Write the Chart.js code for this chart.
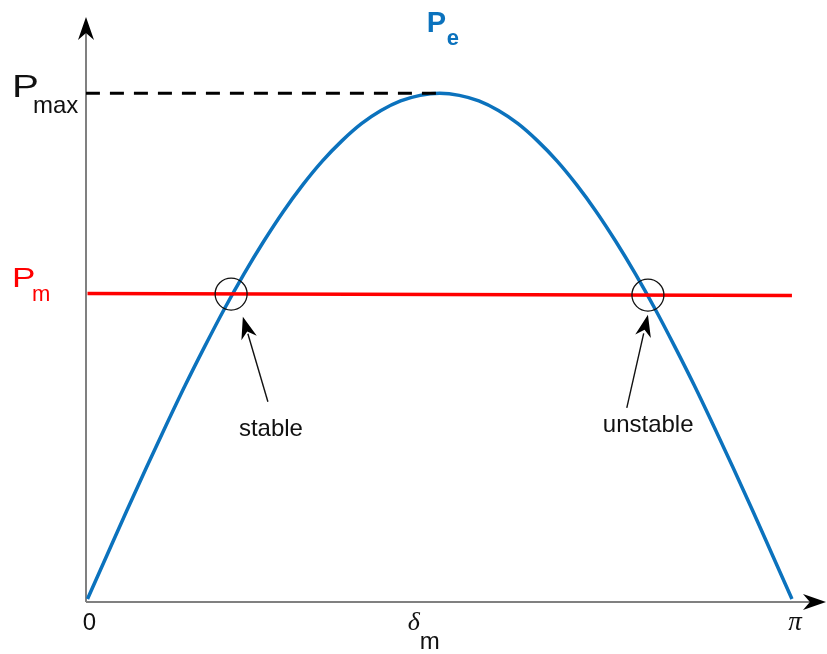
<!DOCTYPE html>
<html>
<head>
<meta charset="utf-8">
<script src="https://cdn.jsdelivr.net/npm/chart.js@4"></script>
<style>
  body { margin: 0; background: white; }
  #wrap { width: 827px; height: 654px; }
</style>
</head>
<body>
<div id="wrap"><canvas id="powerAngle" width="827" height="654"></canvas></div>
<script>
// load angle in degrees (0 .. 180 = pi) and electrical power Pe / Pmax
const peAngle = [0, 5, 10, 15, 20, 25, 30, 35, 40, 45, 50, 55, 60, 65, 70, 75, 80, 85, 90,
                 95, 100, 105, 110, 115, 120, 125, 130, 135, 140, 145, 150, 155, 160, 165, 170, 175, 180];
const peValue = [0, 0.087, 0.174, 0.259, 0.342, 0.423, 0.5, 0.574, 0.643, 0.707, 0.766, 0.819, 0.866, 0.906, 0.94, 0.966, 0.985, 0.996, 1,
                 0.996, 0.985, 0.966, 0.94, 0.906, 0.866, 0.819, 0.766, 0.707, 0.643, 0.574, 0.5, 0.423, 0.342, 0.259, 0.174, 0.087, 0];

// mechanical power line Pm
const pmAngle = [0, 180];
const pmValue = [0.604, 0.6];

// Pmax dashed guide up to the peak
const pmaxAngle = [-0.4, 90];
const pmaxValue = [1, 1];

// operating points (circles) and their labels
const opNames = ["stable", "unstable"];
const opAngle = [36.7, 143.2];
const opValue = [0.603, 0.601];
// arrow tail -> tip, in data units
const arrowTail = [[46.1, 0.39], [137.8, 0.378]];
const arrowTip = [[39.7, 0.558], [143.2, 0.562]];

const blue = "#0b72bd";
const red = "#ff0000";
const ink = "#111111";

function toPoints(xs, ys) {
  return xs.map((x, i) => ({ x: x, y: ys[i] }));
}

function drawText(ctx, text, x, y, font, color, align, scaleX) {
  ctx.save();
  ctx.font = font;
  ctx.fillStyle = color;
  ctx.textAlign = align || "left";
  ctx.textBaseline = "alphabetic";
  ctx.translate(x, y);
  ctx.scale(scaleX || 1, 1);
  ctx.fillText(text, 0, 0);
  ctx.restore();
}

function arrowHead(ctx, tipX, tipY, fromX, fromY, len, half) {
  const a = Math.atan2(tipY - fromY, tipX - fromX);
  const c = Math.cos(a), s = Math.sin(a);
  const bx = tipX - c * len, by = tipY - s * len;
  const nx = tipX - c * len * 0.7, ny = tipY - s * len * 0.7;
  ctx.beginPath();
  ctx.moveTo(tipX, tipY);
  ctx.lineTo(bx - s * half, by + c * half);
  ctx.lineTo(nx, ny);
  ctx.lineTo(bx + s * half, by - c * half);
  ctx.closePath();
  ctx.fill();
}

const axesPlugin = {
  id: "axesPlugin",
  beforeDatasetsDraw(chart) {
    const ctx = chart.ctx;
    const area = chart.chartArea;
    ctx.save();
    ctx.strokeStyle = "#808080";
    ctx.lineWidth = 2;
    ctx.beginPath();
    ctx.moveTo(area.left, area.bottom);
    ctx.lineTo(area.left, area.top + 15);
    ctx.moveTo(area.left, area.bottom);
    ctx.lineTo(area.right - 15, area.bottom);
    ctx.stroke();
    ctx.fillStyle = "#000";
    arrowHead(ctx, area.left, area.top, area.left, area.bottom, 23, 8);
    arrowHead(ctx, area.right, area.bottom, area.left, area.bottom, 23, 8);
    ctx.restore();
  },
  afterDraw(chart) {
    const ctx = chart.ctx;
    const xs = chart.scales.x;
    const ys = chart.scales.y;
    const area = chart.chartArea;
    ctx.save();

    // circles and arrows at the operating points
    ctx.strokeStyle = ink;
    ctx.fillStyle = "#000";
    for (let i = 0; i < opNames.length; i++) {
      const cx = xs.getPixelForValue(opAngle[i]);
      const cy = ys.getPixelForValue(opValue[i]);
      ctx.lineWidth = 1.3;
      ctx.beginPath();
      ctx.arc(cx, cy, 16, 0, Math.PI * 2);
      ctx.stroke();

      const tx = xs.getPixelForValue(arrowTail[i][0]);
      const ty = ys.getPixelForValue(arrowTail[i][1]);
      const hx = xs.getPixelForValue(arrowTip[i][0]);
      const hy = ys.getPixelForValue(arrowTip[i][1]);
      ctx.lineWidth = 1.4;
      ctx.beginPath();
      ctx.moveTo(tx, ty);
      ctx.lineTo(hx + (tx - hx) * 0.2, hy + (ty - hy) * 0.2);
      ctx.stroke();
      arrowHead(ctx, hx, hy, tx, ty, 22, 8);
    }

    const txtFont = "24px 'Liberation Sans', Arial, sans-serif";
    drawText(ctx, opNames[0], xs.getPixelForValue(arrowTail[0][0]) - 29, ys.getPixelForValue(arrowTail[0][1]) + 34, txtFont, ink);
    drawText(ctx, opNames[1], xs.getPixelForValue(arrowTail[1][0]) - 24, ys.getPixelForValue(arrowTail[1][1]) + 24, txtFont, ink);

    // Pmax
    const yMax = ys.getPixelForValue(1);
    drawText(ctx, "P", 12, yMax + 4, "31px 'Liberation Sans', Arial, sans-serif", ink, "left", 1.3);
    drawText(ctx, "max", 33, yMax + 19.5, "24px 'Liberation Sans', Arial, sans-serif", ink);

    // Pm
    const yPm = ys.getPixelForValue(pmValue[0]);
    drawText(ctx, "P", 12, yPm - 7, "27px 'Liberation Sans', Arial, sans-serif", red, "left", 1.3);
    drawText(ctx, "m", 32, yPm + 7, "22px 'Liberation Sans', Arial, sans-serif", red);

    // Pe
    const xPeak = xs.getPixelForValue(90);
    drawText(ctx, "P", xPeak - 13, 32, "bold 29px 'Liberation Sans', Arial, sans-serif", blue);
    drawText(ctx, "e", xPeak + 7, 45, "bold 22px 'Liberation Sans', Arial, sans-serif", blue);

    // x axis labels
    const base = area.bottom + 28;
    drawText(ctx, "0", xs.getPixelForValue(0) + 2, base, txtFont, ink, "center");
    drawText(ctx, "\u03C0", xs.getPixelForValue(180) + 3, base, "italic 27px 'Liberation Serif', 'DejaVu Serif', serif", ink, "center");
    drawText(ctx, "\u03B4", xPeak - 32, base, "italic 26px 'Liberation Serif', 'DejaVu Serif', serif", ink, "left");
    drawText(ctx, "m", xPeak - 20, base + 19, txtFont, ink, "left");

    ctx.restore();
  }
};

new Chart("powerAngle", {
  type: "line",
  data: {
    datasets: [
      {
        label: "Pmax",
        data: toPoints(pmaxAngle, pmaxValue),
        borderColor: "#000",
        borderWidth: 3,
        borderDash: [14, 10],
        pointRadius: 0,
      },
      {
        label: "Pm",
        data: toPoints(pmAngle, pmValue),
        borderColor: red,
        borderWidth: 3.5,
        pointRadius: 0,
      },
      {
        label: "Pe",
        data: toPoints(peAngle, peValue),
        borderColor: blue,
        borderWidth: 3.5,
        pointRadius: 0,
        cubicInterpolationMode: "monotone",
      },
    ],
  },
  options: {
    responsive: false,
    animation: false,
    devicePixelRatio: 1,
    layout: { padding: { left: 86, right: 1, top: 17, bottom: 52 } },
    scales: {
      x: { type: "linear", min: -0.38, max: 188.7, display: false },
      y: { min: -0.006, max: 1.151, display: false },
    },
    plugins: {
      legend: { display: false },
      tooltip: { enabled: false },
    },
  },
  plugins: [axesPlugin],
});
</script>
</body>
</html>
